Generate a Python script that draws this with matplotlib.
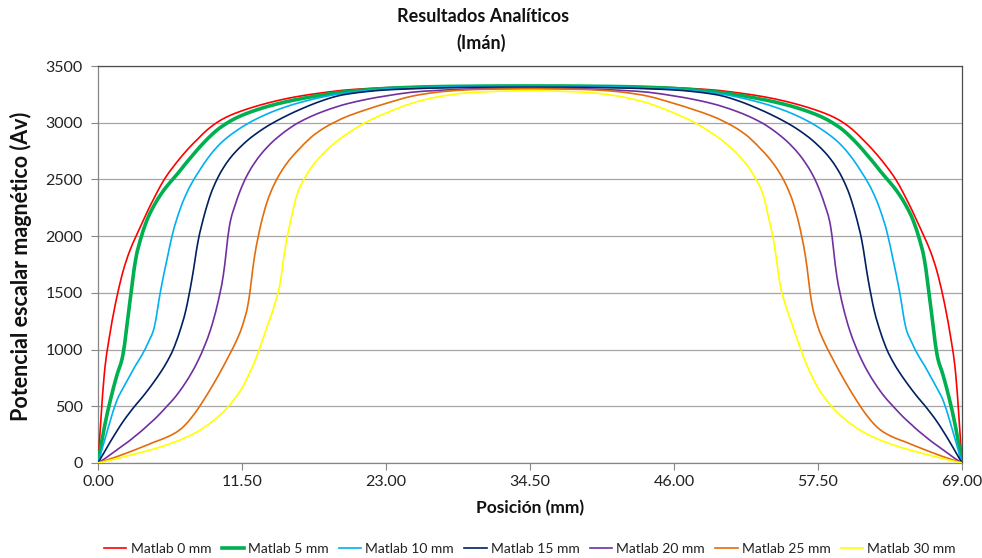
import matplotlib
matplotlib.use("Agg")
import matplotlib.pyplot as plt
from matplotlib.path import Path
from matplotlib.patches import PathPatch
from matplotlib.lines import Line2D

plt.rcParams['font.family'] = ['Lato', 'DejaVu Sans']

# Position along the magnet (mm)
position_mm = [0, 0.5, 1, 1.5, 2, 2.5, 3, 3.5, 4, 4.5, 5, 5.5, 6, 6.5, 7, 7.5, 8, 8.5,
               9, 9.5, 10, 10.5, 11, 11.5, 12, 12.5, 13, 13.5, 14, 14.5, 15, 15.5, 16,
               17, 18, 19, 20, 21.5, 23, 25, 27, 29, 31, 33, 34.5,
               36, 38, 40, 42, 44, 46, 47.5, 49, 50, 51, 52, 53, 53.5, 54, 54.5, 55,
               55.5, 56, 56.5, 57, 57.5, 58, 58.5, 59, 59.5, 60, 60.5, 61, 61.5, 62,
               62.5, 63, 63.5, 64, 64.5, 65, 65.5, 66, 66.5, 67, 67.5, 68, 68.5, 69]

# Magnetic scalar potential (Av) at each distance from the magnet
matlab_0mm = [0, 780, 1170, 1460, 1690, 1860, 1990, 2110, 2230, 2340, 2445, 2535, 2610, 2680,
              2745, 2805, 2860, 2915, 2962, 3002, 3035, 3062, 3085, 3105, 3124, 3141, 3157,
              3172, 3186, 3199, 3211, 3222, 3232, 3250, 3265, 3279, 3290, 3301, 3309, 3316,
              3320, 3323, 3324, 3325, 3325,
              3325, 3324, 3323, 3320, 3316, 3309, 3301, 3290, 3279, 3265, 3250, 3232, 3222,
              3211, 3199, 3186, 3172, 3157, 3141, 3124, 3105, 3085, 3062, 3035, 3002, 2962,
              2915, 2860, 2805, 2745, 2680, 2610, 2535, 2445, 2340, 2230, 2110, 1990, 1860,
              1690, 1460, 1170, 780, 0]

matlab_5mm = [0, 310, 560, 770, 960, 1380, 1790, 2010, 2165, 2275, 2365, 2440, 2505, 2570,
              2640, 2705, 2770, 2830, 2885, 2935, 2975, 3010, 3040, 3065, 3087, 3107, 3125,
              3142, 3157, 3171, 3184, 3196, 3207, 3228, 3246, 3262, 3275, 3290, 3302, 3312,
              3318, 3321, 3323, 3324, 3324,
              3324, 3323, 3321, 3318, 3312, 3302, 3290, 3275, 3262, 3246, 3228, 3207, 3196,
              3184, 3171, 3157, 3142, 3125, 3107, 3087, 3065, 3040, 3010, 2975, 2935, 2885,
              2830, 2770, 2705, 2640, 2570, 2505, 2440, 2365, 2275, 2165, 2010, 1790, 1380,
              960, 770, 560, 310, 0]

matlab_10mm = [0, 190, 380, 550, 660, 760, 860, 950, 1060, 1200, 1520, 1790, 2040, 2220,
               2360, 2470, 2560, 2645, 2720, 2785, 2840, 2885, 2925, 2962, 2995, 3025, 3052,
               3077, 3100, 3121, 3140, 3158, 3174, 3203, 3228, 3249, 3265, 3284, 3297, 3307,
               3313, 3317, 3319, 3320, 3320,
               3320, 3319, 3317, 3313, 3307, 3297, 3284, 3265, 3249, 3228, 3203, 3174, 3158,
               3140, 3121, 3100, 3077, 3052, 3025, 2995, 2962, 2925, 2885, 2840, 2785, 2720,
               2645, 2560, 2470, 2360, 2220, 2040, 1790, 1520, 1200, 1060, 950, 860, 760,
               660, 550, 380, 190, 0]

matlab_15mm = [0, 95, 190, 280, 365, 440, 510, 575, 645, 720, 800, 890, 1000, 1150,
               1340, 1620, 1960, 2190, 2370, 2500, 2600, 2680, 2745, 2800, 2850, 2893, 2932,
               2968, 3000, 3030, 3058, 3085, 3110, 3157, 3198, 3232, 3254, 3275, 3289, 3299,
               3306, 3310, 3312, 3313, 3313,
               3313, 3312, 3310, 3306, 3299, 3289, 3275, 3254, 3232, 3198, 3157, 3110, 3085,
               3058, 3030, 3000, 2968, 2932, 2893, 2850, 2800, 2745, 2680, 2600, 2500, 2370,
               2190, 1960, 1620, 1340, 1150, 1000, 890, 800, 720, 645, 575, 510, 440,
               365, 280, 190, 95, 0]

matlab_20mm = [0, 35, 75, 115, 155, 195, 240, 285, 335, 385, 440, 500, 560, 630,
               710, 800, 905, 1030, 1180, 1380, 1650, 2090, 2290, 2440, 2555, 2645, 2720,
               2783, 2838, 2885, 2928, 2966, 3000, 3055, 3100, 3138, 3170, 3207, 3236, 3268,
               3284, 3295, 3301, 3304, 3305,
               3304, 3301, 3295, 3284, 3268, 3236, 3207, 3170, 3138, 3100, 3055, 3000, 2966,
               2928, 2885, 2838, 2783, 2720, 2645, 2555, 2440, 2290, 2090, 1650, 1380, 1180,
               1030, 905, 800, 710, 630, 560, 500, 440, 385, 335, 285, 240, 195,
               155, 115, 75, 35, 0]

matlab_25mm = [0, 18, 37, 56, 76, 97, 118, 140, 162, 185, 205, 228, 255, 290,
               340, 405, 480, 565, 655, 750, 850, 955, 1065, 1200, 1410, 1820, 2100,
               2300, 2440, 2545, 2630, 2700, 2760, 2870, 2950, 3010, 3060, 3118, 3170, 3232,
               3268, 3287, 3295, 3298, 3299,
               3298, 3295, 3287, 3268, 3232, 3170, 3118, 3060, 3010, 2950, 2870, 2760, 2700,
               2630, 2545, 2440, 2300, 2100, 1820, 1410, 1200, 1065, 955, 850, 750, 655,
               565, 480, 405, 340, 290, 255, 228, 205, 185, 162, 140, 118, 97,
               76, 56, 37, 18, 0]

matlab_30mm = [0, 12, 25, 38, 52, 66, 80, 95, 110, 125, 142, 160, 180, 200,
               225, 250, 280, 315, 355, 400, 450, 510, 580, 660, 770, 890, 1040,
               1200, 1360, 1560, 1930, 2190, 2400, 2600, 2730, 2830, 2910, 3010, 3085, 3170,
               3225, 3258, 3273, 3280, 3282,
               3280, 3273, 3258, 3225, 3170, 3085, 3010, 2910, 2830, 2730, 2600, 2400, 2190,
               1930, 1560, 1360, 1200, 1040, 890, 770, 660, 580, 510, 450, 400, 355,
               315, 280, 250, 225, 200, 180, 160, 142, 125, 110, 95, 80, 66,
               52, 38, 25, 12, 0]

series_labels = ["Matlab 0 mm", "Matlab 5 mm", "Matlab 10 mm", "Matlab 15 mm",
                 "Matlab 20 mm", "Matlab 25 mm", "Matlab 30 mm"]
series_values = [matlab_0mm, matlab_5mm, matlab_10mm, matlab_15mm,
                 matlab_20mm, matlab_25mm, matlab_30mm]
series_colors = ["#FF0000", "#00B050", "#00B0F0", "#002060",
                 "#7030A0", "#E46C0A", "#FFFF00"]
series_widths = [1.2, 2.6, 1.2, 1.2, 1.2, 1.2, 1.2]

x_ticks = [0, 11.5, 23, 34.5, 46, 57.5, 69]
y_ticks = [0, 500, 1000, 1500, 2000, 2500, 3000, 3500]


def smoothed_line(xs, ys):
    """Spreadsheet-style smoothed line: cubic Bezier segments through every data point."""
    pts = list(zip(xs, ys))
    n = len(pts)
    verts = [pts[0]]
    codes = [Path.MOVETO]
    for i in range(n - 1):
        p0 = pts[i - 1] if i > 0 else pts[i]
        p1 = pts[i]
        p2 = pts[i + 1]
        p3 = pts[i + 2] if i + 2 < n else pts[i + 1]
        c1 = (p1[0] + (p2[0] - p0[0]) / 6.0, p1[1] + (p2[1] - p0[1]) / 6.0)
        c2 = (p2[0] - (p3[0] - p1[0]) / 6.0, p2[1] - (p3[1] - p1[1]) / 6.0)
        verts += [c1, c2, p2]
        codes += [Path.CURVE4] * 3
    return Path(verts, codes)


W, H = 982, 558
fig = plt.figure(figsize=(W / 100, H / 100), dpi=100)
ax = fig.add_axes([98 / W, 1 - 463 / H, 864 / W, 397 / H])

handles = []
for vals, lab, col, lw in zip(series_values, series_labels, series_colors, series_widths):
    patch = PathPatch(smoothed_line(position_mm, vals), fill=False, edgecolor=col,
                      lw=lw, capstyle="round", joinstyle="round", zorder=3)
    ax.add_patch(patch)
    handles.append(Line2D([], [], color=col, lw=lw, label=lab))

ax.set_xlim(0, 69)
ax.set_ylim(0, 3500)
ax.set_xticks(x_ticks)
ax.set_xticklabels([f"{t:.2f}" for t in x_ticks])
ax.set_yticks(y_ticks)
ax.set_yticklabels([str(t) for t in y_ticks])

ax.yaxis.grid(True, color="#A6A6A6", lw=0.9)
ax.set_axisbelow(True)

for side in ("left", "bottom"):
    ax.spines[side].set_color("#868686")
    ax.spines[side].set_linewidth(0.9)
for side in ("top", "right"):
    ax.spines[side].set_color("#4D4D4D")
    ax.spines[side].set_linewidth(0.9)

ax.tick_params(axis="y", length=5, width=0.8, color="#868686", pad=6,
               labelsize=11.5, labelcolor="#222222")
ax.tick_params(axis="x", length=5, width=0.8, color="#868686", pad=4,
               labelsize=11.5, labelcolor="#222222")

fig.text(483 / W, 1 - 17 / H, "Resultados Analíticos", ha="center", va="center",
         fontsize=13, fontweight="bold", color="#111111")
fig.text(481 / W, 1 - 43 / H, "(Imán)", ha="center", va="center",
         fontsize=13, fontweight="bold", color="#111111")

fig.text(21 / W, 1 - 266 / H, "Potencial escalar magnético (Av)", rotation=90,
         ha="center", va="center", fontsize=15.5, fontweight="bold", color="#111111")
fig.text(530 / W, 1 - 508 / H, "Posición (mm)", ha="center", va="center",
         fontsize=12.5, fontweight="bold", color="#111111")

fig.legend(handles=handles, loc="center", bbox_to_anchor=(530 / W, 1 - 549 / H), ncol=7,
           frameon=False, fontsize=10, handlelength=1.6, handletextpad=0.3,
           columnspacing=0.75, labelcolor="#222222")

fig.savefig("out.png", dpi=100)
